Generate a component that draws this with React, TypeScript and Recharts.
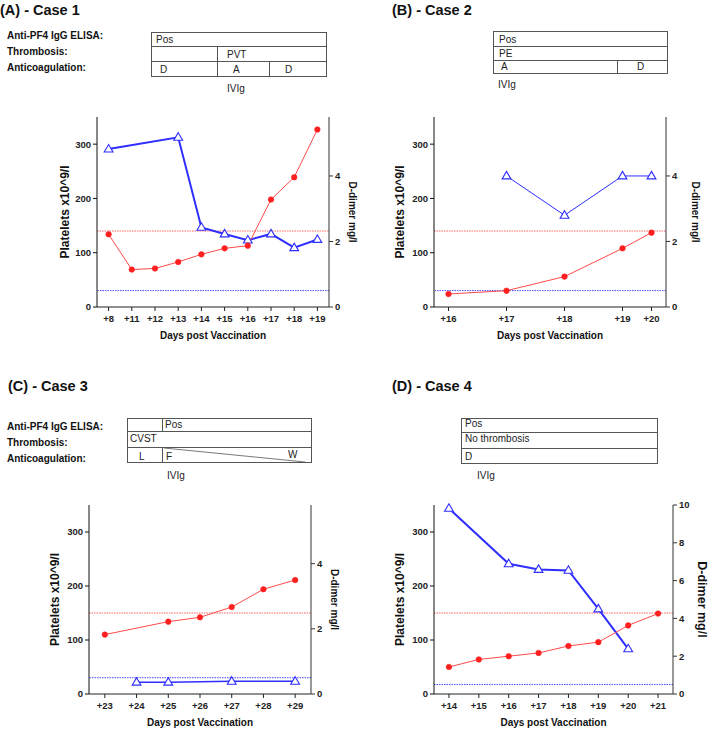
import { ComposedChart, Line, XAxis, YAxis, ReferenceLine } from "recharts";

const FONT = "'Liberation Sans', Arial, Helvetica, sans-serif";
const RED = "#ff1f1f";
const BLUE = "#2e2eff";

// Case 1
const case1Days = ["+8", "+11", "+12", "+13", "+14", "+15", "+16", "+17", "+18", "+19"];
const case1Platelets = [134, 69, 71, 83, 97, 108, 113, 198, 239, 327];
const case1Ddimer = [4.82, null, null, 5.18, 2.43, 2.23, 2.04, 2.23, 1.81, 2.06];

// Case 2 (days are not evenly spaced on the axis)
const case2Days = ["+16", "+17", "+18", "+19", "+20"];
const case2Pos = [16, 17, 18, 19, 19.5];
const case2Platelets = [24, 30, 56, 108, 137];
const case2Ddimer = [null, 4.0, 2.8, 4.0, 4.0];

// Case 3
const case3Days = ["+23", "+24", "+25", "+26", "+27", "+28", "+29"];
const case3Platelets = [110, null, 134, 142, 161, 194, 211];
const case3Ddimer = [null, 0.36, 0.36, null, 0.39, null, 0.39];

// Case 4
const case4Days = ["+14", "+15", "+16", "+17", "+18", "+19", "+20", "+21"];
const case4Platelets = [50, 64, 70, 76, 89, 96, 127, 149];
const case4Ddimer = [9.82, null, 6.89, 6.59, 6.54, 4.5, 2.39, null];

const plateletTicks = [0, 100, 200, 300];
const ddimerTicksSmall = [0, 2, 4];
const ddimerTicksLarge = [0, 2, 4, 6, 8, 10];
const ddimerLimit = 0.5;

const ROW_LABELS = ["Anti-PF4 IgG ELISA:", "Thrombosis:", "Anticoagulation:"];

type Row = { day: string; pos?: number; platelets: number | null; ddimer: number | null };

function rows(days: string[], platelets: (number | null)[], ddimer: (number | null)[], pos?: number[]): Row[] {
  return days.map((d, i) => ({ day: d, pos: pos ? pos[i] : undefined, platelets: platelets[i], ddimer: ddimer[i] }));
}

const tickStyle = { fontSize: 9.5, fontWeight: 700, fill: "#222", fontFamily: FONT };

function Triangle(props: any) {
  const { cx, cy, index } = props;
  if (cx == null || cy == null || props.value == null) return <g key={`t${index}`} />;
  return (
    <path
      key={`t${index}`}
      d={`M${cx},${cy - 4.6} L${cx + 4.4},${cy + 2.9} L${cx - 4.4},${cy + 2.9} Z`}
      fill="#fff"
      stroke={BLUE}
      strokeWidth={1.1}
    />
  );
}

type PanelProps = {
  data: Row[];
  left: number;
  top: number;
  width: number;
  height: number;
  leftW: number;
  rightW: number;
  plOffset: number;
  ddOffset: number;
  ddFont: number;
  ddMax: number;
  ddTicks: number[];
  plLimit: number;
  blueWidth: number;
  numeric?: boolean;
};

function Panel(p: PanelProps) {
  return (
    <div style={{ position: "absolute", left: p.left, top: p.top }}>
      <ComposedChart width={p.width} height={p.height} data={p.data} margin={{ top: 12, right: 0, bottom: 0, left: 0 }}>
        {p.numeric ? (
          <XAxis
            dataKey="pos"
            type="number"
            domain={[15.75, 19.75]}
            ticks={case2Pos}
            tickFormatter={(v: number) => case2Days[case2Pos.indexOf(v)]}
            interval={0}
            height={38}
            tickSize={4}
            tickMargin={4}
            tick={tickStyle}
            stroke="#222"
            label={{ value: "Days post Vaccination", position: "insideBottom", offset: 6, style: { fontFamily: FONT, fontSize: 10, fontWeight: 700, fill: "#111" } }}
          />
        ) : (
          <XAxis
            dataKey="day"
            type="category"
            scale="band"
            interval={0}
            height={38}
            tickSize={4}
            tickMargin={4}
            tick={tickStyle}
            stroke="#222"
            label={{ value: "Days post Vaccination", position: "insideBottom", offset: 6, style: { fontFamily: FONT, fontSize: 10, fontWeight: 700, fill: "#111" } }}
          />
        )}
        <YAxis
          yAxisId="l"
          domain={[0, 350]}
          ticks={plateletTicks}
          width={p.leftW}
          tickSize={4}
          tickMargin={2}
          tick={tickStyle}
          stroke="#111"
          label={{ value: "Platelets x10^9/l", angle: -90, position: "insideLeft", offset: p.plOffset, style: { textAnchor: "middle", fontFamily: FONT, fontSize: 12, fontWeight: 700, fill: "#111" } }}
        />
        <YAxis
          yAxisId="r"
          orientation="right"
          domain={[0, p.ddMax]}
          ticks={p.ddTicks}
          width={p.rightW}
          tickSize={4}
          tickMargin={2}
          tick={tickStyle}
          stroke="#333"
          label={{ value: "D-dimer mg/l", angle: 90, position: "insideRight", offset: p.ddOffset, style: { textAnchor: "middle", fontFamily: FONT, fontSize: p.ddFont, fontWeight: 700, fill: "#111" } }}
        />
        <ReferenceLine yAxisId="l" y={p.plLimit} stroke="#ff6060" strokeDasharray="1.5 1" strokeWidth={1} />
        <ReferenceLine yAxisId="r" y={ddimerLimit} stroke="#4848ff" strokeDasharray="1.5 1" strokeWidth={1} />
        <Line
          yAxisId="r"
          dataKey="ddimer"
          stroke={BLUE}
          strokeWidth={p.blueWidth}
          connectNulls
          dot={Triangle}
          activeDot={false}
          isAnimationActive={false}
        />
        <Line
          yAxisId="l"
          dataKey="platelets"
          stroke="#ff4a4a"
          strokeWidth={1}
          connectNulls
          dot={{ r: 2.8, fill: RED, stroke: RED, strokeWidth: 0.5 }}
          activeDot={false}
          isAnimationActive={false}
        />
      </ComposedChart>
    </div>
  );
}

function Annotations() {
  const ln = { stroke: "#555", strokeWidth: 1, fill: "none" };
  const t = { fontFamily: FONT, fontSize: 10, fill: "#222" };
  const b = { fontFamily: FONT, fontSize: 10, fontWeight: 700, fill: "#111" };
  const h = { fontFamily: FONT, fontSize: 14.5, fontWeight: 700, fill: "#111" };
  return (
    <svg width={709} height={730} style={{ position: "absolute", left: 0, top: 0 }}>
      {/* titles */}
      <text x={0} y={15} {...h}>(A)  - Case 1</text>
      <text x={392} y={15} {...h}>(B) - Case 2</text>
      <text x={8} y={391} {...h}>(C) - Case 3</text>
      <text x={392} y={391} {...h}>(D) - Case 4</text>

      {/* row labels */}
      {ROW_LABELS.map((l, i) => (
        <text key={`a${i}`} x={7} y={39 + i * 16} {...b}>{l}</text>
      ))}
      {ROW_LABELS.map((l, i) => (
        <text key={`c${i}`} x={7} y={430 + i * 16} {...b}>{l}</text>
      ))}

      {/* Case 1 table */}
      <rect x={151.5} y={32.5} width={175} height={44} {...ln} />
      <line x1={151.5} y1={46.5} x2={326.5} y2={46.5} {...ln} />
      <line x1={151.5} y1={61.5} x2={326.5} y2={61.5} {...ln} />
      <line x1={217.5} y1={46.5} x2={217.5} y2={76.5} {...ln} />
      <line x1={269.5} y1={61.5} x2={269.5} y2={76.5} {...ln} />
      <text x={156} y={43} {...t}>Pos</text>
      <text x={227} y={58} {...t}>PVT</text>
      <text x={160} y={73} {...t}>D</text>
      <text x={233} y={73} {...t}>A</text>
      <text x={285} y={73} {...t}>D</text>
      <text x={227} y={92} {...t}>IVIg</text>

      {/* Case 2 table */}
      <rect x={493.5} y={31.5} width={174} height={42} {...ln} />
      <line x1={493.5} y1={46.5} x2={667.5} y2={46.5} {...ln} />
      <line x1={493.5} y1={60.5} x2={667.5} y2={60.5} {...ln} />
      <line x1={617.5} y1={60.5} x2={617.5} y2={73.5} {...ln} />
      <text x={499} y={43} {...t}>Pos</text>
      <text x={499} y={57} {...t}>PE</text>
      <text x={501} y={70} {...t}>A</text>
      <text x={637} y={70} {...t}>D</text>
      <text x={498} y={88} {...t}>IVIg</text>

      {/* Case 3 table */}
      <rect x={127.5} y={418.5} width={184} height={44} {...ln} />
      <line x1={127.5} y1={431.5} x2={311.5} y2={431.5} {...ln} />
      <line x1={127.5} y1={447.5} x2={311.5} y2={447.5} {...ln} />
      <line x1={162.5} y1={418.5} x2={162.5} y2={431.5} {...ln} />
      <line x1={162.5} y1={447.5} x2={162.5} y2={462.5} {...ln} />
      <line x1={164} y1={448} x2={305} y2={462} stroke="#555" strokeWidth={0.8} />
      <text x={165} y={428} {...t}>Pos</text>
      <text x={130} y={442} {...t}>CVST</text>
      <text x={139} y={460} {...t}>L</text>
      <text x={166} y={460} {...t}>F</text>
      <text x={288} y={458} {...t}>W</text>
      <text x={167} y={479} {...t}>IVIg</text>

      {/* Case 4 table */}
      <rect x={461.5} y={418.5} width={196} height={45} {...ln} />
      <line x1={461.5} y1={432.5} x2={657.5} y2={432.5} {...ln} />
      <line x1={461.5} y1={448.5} x2={657.5} y2={448.5} {...ln} />
      <text x={465} y={427} {...t}>Pos</text>
      <text x={465} y={442} {...t}>No thrombosis</text>
      <text x={465} y={460} {...t}>D</text>
      <text x={477} y={479} {...t}>IVIg</text>
    </svg>
  );
}

export default function App() {
  return (
    <div style={{ position: "absolute", left: 0, top: 0, width: 709, height: 730, overflow: "hidden", background: "#fff" }}>
      <Annotations />
      <Panel
        data={rows(case1Days, case1Platelets, case1Ddimer)}
        left={0} top={105} width={365} height={240}
        leftW={97} rightW={36} plOffset={65} ddOffset={12} ddFont={10}
        ddMax={5.8} ddTicks={ddimerTicksSmall} plLimit={140} blueWidth={2}
      />
      <Panel
        data={rows(case2Days, case2Platelets, case2Ddimer, case2Pos)}
        left={354} top={105} width={355} height={240}
        leftW={80} rightW={43} plOffset={46} ddOffset={13} ddFont={10}
        ddMax={5.8} ddTicks={ddimerTicksSmall} plLimit={140} blueWidth={1} numeric
      />
      <Panel
        data={rows(case3Days, case3Platelets, case3Ddimer)}
        left={0} top={493} width={350} height={239}
        leftW={89} rightW={39} plOffset={55} ddOffset={15} ddFont={10}
        ddMax={5.8} ddTicks={ddimerTicksSmall} plLimit={150} blueWidth={1.6}
      />
      <Panel
        data={rows(case4Days, case4Platelets, case4Ddimer)}
        left={354} top={493} width={355} height={239}
        leftW={80} rightW={36} plOffset={46} ddOffset={7} ddFont={12.5}
        ddMax={10} ddTicks={ddimerTicksLarge} plLimit={150} blueWidth={2}
      />
    </div>
  );
}
